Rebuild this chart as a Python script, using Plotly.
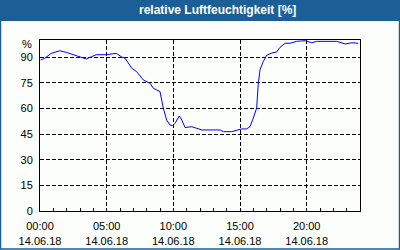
import plotly.graph_objects as go
import pandas as pd

times = ["00:03","00:21","00:51","01:29","01:58","02:21","02:51","03:28","03:51","04:13",
         "04:58","05:43","06:06","06:23","06:53","07:15","07:45","08:15","08:30","08:45",
         "09:00","09:15","09:30","09:45","09:57","10:08","10:27","10:38","10:53","11:23",
         "11:45","12:08","13:30","13:45","14:23","14:45","15:08","15:30","15:45","16:00",
         "16:15","16:22","16:30","16:45","17:00","17:23","17:45","18:00","18:23","18:45",
         "19:15","19:53","20:23","20:45","22:15","22:53","23:23","23:52"]
humidity = [88.3,89.3,92.2,93.7,92.8,91.8,90.6,88.9,90.2,91.4,
            91.4,92.2,90.2,89.3,83.5,81.5,76.6,74.7,71.8,70.8,
            69.8,60.1,53.2,50.3,49.9,51.3,55.6,53.2,48.8,49.3,
            48.4,47.4,47.4,46.4,46.4,47.4,48.0,48.0,49.3,54.4,
            60.2,73.9,82.6,87.5,91.1,92.4,93.0,95.7,98.1,98.1,
            99.2,99.6,98.4,99.2,99.2,97.7,98.4,98.1]
y_ticks = [0, 15, 30, 45, 60, 75, 90]
title = "relative Luftfeuchtigkeit [%]"
day = "2018-06-14"

x = pd.to_datetime([f"{day} {t}" for t in times])

W, H = 400, 250
L, R, T, B = 40, 40, 40, 39
pw, ph = W - L - R, H - T - B
def px(xp): return (xp - L) / pw
def py(yp): return (H - B - yp) / ph

blue = "#1c5f96"
bg = "#fbfefb"
font = "Liberation Sans, Arial, sans-serif"

fig = go.Figure()
fig.add_trace(go.Scatter(x=x, y=humidity, mode="lines",
                         line=dict(color="#0000ff", width=1), hoverinfo="skip"))

fig.update_layout(
    width=W, height=H,
    margin=dict(l=L, r=R, t=T, b=B, autoexpand=False),
    paper_bgcolor=bg, plot_bgcolor=bg,
    showlegend=False,
    font=dict(family=font, size=11, color="black"),
    xaxis=dict(
        type="date",
        range=[f"{day} 00:00", "2018-06-15 00:00"],
        tick0=f"{day} 00:00", dtick=5 * 3600000,
        tickformat="%H:%M<br>%d.%m.%y",
        ticks="inside", ticklen=3, tickcolor="black",
        ticklabelstandoff=5, automargin=False,
        showgrid=True, gridcolor="black", griddash="4px,2px", gridwidth=1,
        minor=dict(dtick=3600000, ticks="inside", ticklen=3, tickcolor="black", showgrid=False),
        showline=True, linecolor="black", linewidth=1, mirror=True,
        zeroline=False, fixedrange=True,
    ),
    yaxis=dict(
        range=[0, 100],
        tickvals=y_ticks,
        ticks="",
        ticklabelstandoff=4, automargin=False,
        showgrid=True, gridcolor="black", griddash="4px,2px", gridwidth=1,
        showline=True, linecolor="black", linewidth=1, mirror=True,
        zeroline=False, fixedrange=True,
    ),
    shapes=[
        dict(type="rect", xref="paper", yref="paper",
             x0=px(0), x1=px(W), y0=py(21), y1=py(0),
             fillcolor=blue, line=dict(width=0), layer="above"),
        dict(type="rect", xref="paper", yref="paper",
             x0=px(0.5), x1=px(W - 0.5), y0=py(H - 1), y1=py(0.5),
             fillcolor="rgba(0,0,0,0)", line=dict(color=blue, width=1.5), layer="above"),
    ],
    annotations=[
        dict(text=f"<b>{title}</b>", xref="paper", yref="paper",
             x=px(217), y=py(10.5), xanchor="center", yanchor="middle",
             showarrow=False, font=dict(family=font, size=12, color="white")),
        dict(text="%", xref="paper", yref="paper",
             x=px(34), y=py(44), xanchor="right", yanchor="middle",
             showarrow=False, font=dict(family=font, size=11, color="black")),
    ],
)

fig.write_html("out.html")
